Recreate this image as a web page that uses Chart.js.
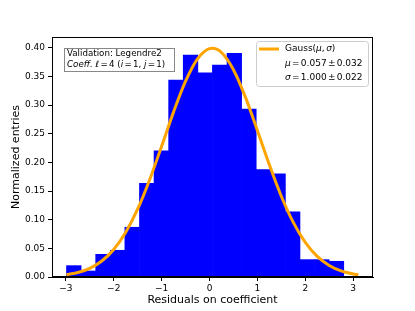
<!DOCTYPE html>
<html>
<head>
<meta charset="utf-8">
<script src="https://cdn.jsdelivr.net/npm/chart.js@4/dist/chart.umd.min.js"></script>
<style>
  html, body { margin: 0; padding: 0; background: #fff; }
  #chart { display: block; }
</style>
</head>
<body>
<canvas id="chart" width="415" height="311"></canvas>
<script>
// histogram: bin edges start + width, one value per bin
const binStart = -2.987;
const binWidth = 0.3048;
const binValues = [0.0198, 0.0105, 0.0396, 0.0466, 0.0868, 0.1636, 0.2201, 0.3435, 0.3872, 0.3563,
                   0.3697, 0.3901, 0.2929, 0.1875, 0.1799, 0.1135, 0.0303, 0.0303, 0.0274];

// fitted gaussian
const fitX = [-2.99, -2.75, -2.5, -2.25, -2.0, -1.75, -1.5, -1.25, -1.0, -0.75, -0.5, -0.25, 0, 0.06,
              0.25, 0.5, 0.75, 1.0, 1.25, 1.5, 1.75, 2.0, 2.25, 2.5, 2.75, 3.0, 3.11];
const fitY = [0.0039, 0.0078, 0.0152, 0.0279, 0.0481, 0.0780, 0.1187, 0.1698, 0.2282, 0.2881, 0.3416, 0.3806, 0.3983, 0.3989,
              0.3916, 0.3617, 0.3138, 0.2557, 0.1958, 0.1409, 0.0952, 0.0604, 0.0360, 0.0202, 0.0106, 0.0053, 0.0038];

const xTicks = [-3, -2, -1, 0, 1, 2, 3];
const yTicks = [0, 0.05, 0.10, 0.15, 0.20, 0.25, 0.30, 0.35, 0.40];

const FONT = '"DejaVu Sans", sans-serif';

const binData = binValues.map((v, i) => ({ x: binStart + binWidth * (i + 0.5), y: v }));
const fitData = fitX.map((x, i) => ({ x: x, y: fitY[i] }));

// pieces: [text, italic] or a number = small gap in px (mathtext spacing)
function drawPieces(ctx, pieces, x, y, size) {
  pieces.forEach(p => {
    if (typeof p === 'number') { x += p; return; }
    ctx.font = (p[1] ? 'italic ' : '') + size + 'px ' + FONT;
    ctx.fillText(p[0], x, y);
    x += ctx.measureText(p[0]).width;
  });
}

const boxesPlugin = {
  id: 'boxes',
  afterDatasetsDraw(chart) {
    const ctx = chart.ctx;
    const a = chart.chartArea;
    ctx.save();
    // axes frame
    ctx.strokeStyle = '#000';
    ctx.lineWidth = 1;
    ctx.strokeRect(Math.round(a.left) + 0.5, Math.round(a.top) + 0.5,
                   Math.round(a.right - a.left) - 1, Math.round(a.bottom - a.top) - 1);

    const g = 1.3;
    // info box top-left
    ctx.fillStyle = '#fff';
    ctx.fillRect(64, 48, 111, 24);
    ctx.strokeStyle = '#888';
    ctx.strokeRect(64.5, 48.5, 110, 23);
    ctx.fillStyle = '#000';
    ctx.textBaseline = 'middle';
    ctx.textAlign = 'left';
    drawPieces(ctx, [['Validation: Legendre2', false]], 67, 54, 8.7);
    drawPieces(ctx, [['Coeff. ', true], ['ℓ', true], g, ['=', false], g, ['4 (', false], ['i', true], g,
                     ['=', false], g, ['1, ', false], ['j', true], g, ['=', false], g, ['1)', false]], 67, 65, 8.7);

    // legend top-right
    const lx = 256.5, ly = 41.5, lw = 112, lh = 45, r = 3;
    ctx.beginPath();
    ctx.moveTo(lx + r, ly);
    ctx.arcTo(lx + lw, ly, lx + lw, ly + lh, r);
    ctx.arcTo(lx + lw, ly + lh, lx, ly + lh, r);
    ctx.arcTo(lx, ly + lh, lx, ly, r);
    ctx.arcTo(lx, ly, lx + lw, ly, r);
    ctx.closePath();
    ctx.fillStyle = 'rgba(255,255,255,0.8)';
    ctx.fill();
    ctx.strokeStyle = '#cccccc';
    ctx.stroke();

    ctx.strokeStyle = chart.data.datasets[0].borderColor;
    ctx.lineWidth = 3;
    ctx.beginPath();
    ctx.moveTo(259, 49);
    ctx.lineTo(279, 49);
    ctx.stroke();

    ctx.fillStyle = '#000';
    drawPieces(ctx, [['Gauss(', false], ['μ', true], [',', false], 1.5, ['σ', true], [')', false]], 285, 48.5, 9);
    drawPieces(ctx, [['μ', true], g, ['=', false], g, ['0.057', false], g, ['±', false], g, ['0.032', false]], 285, 64, 9);
    drawPieces(ctx, [['σ', true], g, ['=', false], g, ['1.000', false], g, ['±', false], g, ['0.022', false]], 285, 77.5, 9);
    ctx.restore();
  }
};

const tickFont = { family: FONT, size: 9 };

new Chart(document.getElementById('chart'), {
  type: 'bar',
  data: {
    datasets: [
      {
        type: 'line',
        label: 'Gauss',
        data: fitData,
        borderColor: '#ffa500',
        borderWidth: 3,
        pointRadius: 0,
        cubicInterpolationMode: 'monotone',
        fill: false,
        order: 0
      },
      {
        type: 'bar',
        label: 'Validation',
        data: binData,
        backgroundColor: '#0000ff',
        borderWidth: 0,
        barPercentage: 1,
        categoryPercentage: 1,
        order: 1
      }
    ]
  },
  options: {
    responsive: false,
    animation: false,
    layout: { padding: { top: 37, right: 42, left: 0, bottom: 0 } },
    plugins: {
      legend: { display: false },
      tooltip: { enabled: false }
    },
    scales: {
      x: {
        type: 'linear',
        min: -3.29,
        max: 3.415,
        offset: false,
        afterBuildTicks: s => { s.ticks = xTicks.map(v => ({ value: v })); },
        afterFit: s => { s.height = 34; },
        grid: { offset: false, drawOnChartArea: false, drawTicks: true, tickLength: 4, color: '#000' },
        border: { color: '#000' },
        ticks: {
          color: '#000', font: tickFont, padding: 2, maxRotation: 0, autoSkip: false,
          callback: v => v < 0 ? '\u2212' + Math.abs(v) : String(v)
        },
        title: {
          display: true, text: 'Residuals on coefficient', color: '#000',
          font: { family: FONT, size: 11 }, padding: { top: 0, bottom: 4 }
        }
      },
      y: {
        type: 'linear',
        min: 0,
        max: 0.4187,
        afterBuildTicks: s => { s.ticks = yTicks.map(v => ({ value: v })); },
        afterFit: s => { s.width = 52; },
        grid: { drawOnChartArea: false, drawTicks: true, tickLength: 4, color: '#000' },
        border: { color: '#000' },
        ticks: { color: '#000', font: tickFont, padding: 3, callback: v => v.toFixed(2) },
        title: {
          display: true, text: 'Normalized entries', color: '#000',
          font: { family: FONT, size: 11 }, padding: { top: 10, bottom: 0 }
        }
      }
    }
  },
  plugins: [boxesPlugin]
});
</script>
</body>
</html>
